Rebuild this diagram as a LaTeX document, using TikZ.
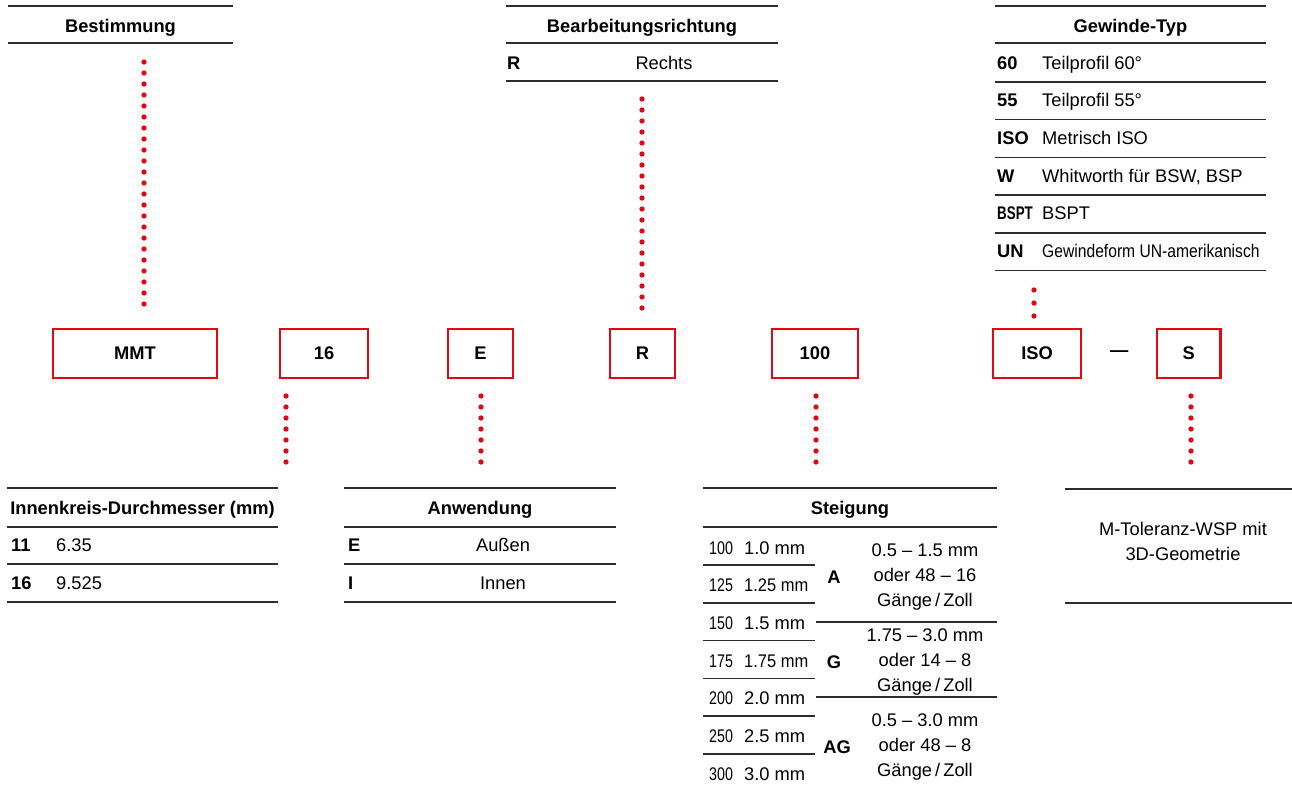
\documentclass[tikz,border=0pt]{standalone}
\usepackage{fontspec}
\setmainfont{Liberation Sans}
\usepackage{graphicx}
\usepackage{tikz}
\usetikzlibrary{positioning}
\definecolor{myred}{RGB}{227,6,19}
\definecolor{mydark}{RGB}{45,45,45}
\newcommand{\cond}[2]{\scalebox{#1}[1]{#2}}
\newcommand{\basefont}{\fontsize{18.3pt}{22pt}\selectfont}
\tikzset{
  codebox/.style={rectangle, draw=myred, fill=white, line width=2.4pt,
    inner sep=0pt, minimum height=48.6pt, font=\basefont\bfseries},
  hdr/.style={anchor=base, inner sep=0pt, font=\basefont\bfseries},
  key/.style={anchor=base west, inner sep=0pt, font=\basefont\bfseries},
  txt/.style={anchor=base west, inner sep=0pt},
  ctxt/.style={anchor=base, inner sep=0pt},
  grp/.style={align=center, inner sep=0pt,
    font=\fontsize{18.3pt}{25pt}\selectfont},
  rule/.style={draw=mydark, line width=1.5pt},
  dots/.style={draw=myred, line width=5.3pt, line cap=round,
    dash pattern=on 0pt off 11pt}
}

\begin{document}
\begin{tikzpicture}[x=1pt, y=-1pt, font=\basefont]
  \useasboundingbox (0,0) rectangle (1292,790);

  % Bestimmung
  \draw[rule] (8,6) -- (233,6);
  \node[hdr] (best-hdr) at (120.5,32) {Bestimmung};
  \draw[rule] (8,43) -- (233,43);
  \coordinate (best-foot) at (144,62);

  % Bearbeitungsrichtung
  \draw[rule] (506,6) -- (778,6);
  \node[hdr] (dir-hdr) at (642,32) {Bearbeitungsrichtung};
  \draw[rule] (506,43) -- (778,43);
  \node[key] (dir-k1) at (507,69) {R};
  \node[ctxt] (dir-v1) at (664,69) {Rechts};
  \draw[rule] (506,81) -- (778,81);
  \coordinate (dir-foot) at (642,99);

  % Gewinde-Typ
  \draw[rule] (995,6) -- (1266,6);
  \node[hdr] (gw-hdr) at (1130.5,32) {Gewinde-Typ};
  \draw[rule] (995,43) -- (1266,43);
  \foreach \code/\desc [count=\i] in {60/Teilprofil 60°, 55/Teilprofil 55°,
      ISO/Metrisch ISO, W/{Whitworth für BSW, BSP}, {\cond{0.73}{BSPT}}/BSPT,
      UN/{\cond{0.855}{Gewindeform UN-amerikanisch}}} {
    \node[key] (gw-k\i) at (997,31.3+37.7*\i) {\code};
    \node[txt] (gw-v\i) at (1042,31.3+37.7*\i) {\desc};
    \draw[rule] (995,44.3+37.7*\i) -- (1266,44.3+37.7*\i);
  }
  \coordinate (gw-foot) at (1034,290);

  % Schluessel
  \node[codebox, minimum width=163.6pt] (mmt) at (135,353.5) {MMT};
  \node[codebox, minimum width=87.6pt] (dia) at (324,353.5) {16};
  \node[codebox, minimum width=64.6pt] (app) at (480.5,353.5) {E};
  \node[codebox, minimum width=64.6pt] (dir) at (642.5,353.5) {R};
  \node[codebox, minimum width=85.6pt] (pitch) at (815,353.5) {100};
  \node[codebox, minimum width=87.6pt] (thread) at (1037,353.5) {ISO};
  \node[font=\basefont\bfseries, inner sep=0pt, right=28pt of thread] (dash) {\textemdash};
  \node[codebox, minimum width=63.6pt, right=27pt of dash] (shape) {S};

  % Punktlinien oben
  \draw[dots, shorten >=13pt] (best-foot) -- (best-foot |- mmt.north);
  \draw[dots, shorten >=13pt] (dir-foot) -- (dir-foot |- dir.north);
  \draw[dots, dash pattern=on 0pt off 13pt, shorten >=10pt] (gw-foot) -- (gw-foot |- thread.north);

  % Punktlinien unten
  \coordinate (dia-head) at (286,472);
  \coordinate (app-head) at (481,472);
  \coordinate (pitch-head) at (816,472);
  \coordinate (shape-head) at (1191,472);
  \draw[dots, shorten <=17pt] (dia.south -| dia-head) -- (dia-head);
  \draw[dots, shorten <=17pt] (app.south -| app-head) -- (app-head);
  \draw[dots, shorten <=17pt] (pitch.south -| pitch-head) -- (pitch-head);
  \draw[dots, shorten <=17pt] (shape.south -| shape-head) -- (shape-head);

  % Innenkreis-Durchmesser
  \draw[rule] (7,488) -- (278,488);
  \node[hdr] (dia-hdr) at (142.5,514) {Innenkreis-Durchmesser (mm)};
  \draw[rule] (7,527) -- (278,527);
  \node[key] (dia-k1) at (11,551) {11};
  \node[txt] (dia-v1) at (56,551) {6.35};
  \draw[rule] (7,564) -- (278,564);
  \node[key] (dia-k2) at (11,589) {16};
  \node[txt] (dia-v2) at (56,589) {9.525};
  \draw[rule] (7,602) -- (278,602);

  % Anwendung
  \draw[rule] (344,488) -- (616,488);
  \node[hdr] (app-hdr) at (480,514) {Anwendung};
  \draw[rule] (344,527) -- (616,527);
  \node[key] (app-k1) at (348,551) {E};
  \node[ctxt] (app-v1) at (503,551) {Außen};
  \draw[rule] (344,564) -- (616,564);
  \node[key] (app-k2) at (348,589) {I};
  \node[ctxt] (app-v2) at (503,589) {Innen};
  \draw[rule] (344,602) -- (616,602);

  % Steigung
  \draw[rule] (703,488) -- (997,488);
  \node[hdr] (pitch-hdr) at (850,514) {Steigung};
  \draw[rule] (703,527) -- (997,527);
  \foreach \code/\val [count=\i] in {100/1.0 mm, 125/{\cond{0.9}{1.25 mm}},
      150/1.5 mm, 175/{\cond{0.9}{1.75 mm}}, 200/2.0 mm, 250/2.5 mm, 300/3.0 mm} {
    \node[txt] (pitch-k\i) at (709,516.3+37.7*\i) {\cond{0.78}{\code}};
    \node[txt] (pitch-v\i) at (744,516.3+37.7*\i) {\val};
  }
  \foreach \i in {1,...,6}
    \draw[rule] (703,527.2+37.8*\i) -- (815,527.2+37.8*\i);
  \draw[rule] (816,622) -- (997,622);
  \draw[rule] (816,697) -- (997,697);
  \node[hdr] (grp-a) at (834,583) {A};
  \node[hdr] (grp-g) at (834,668) {G};
  \node[hdr] (grp-ag) at (837,753) {AG};
  \node[grp] (grp-a-txt) at (925,577) {0.5 – 1.5 mm\\oder 48 – 16\\Gänge\,/\,Zoll};
  \node[grp] (grp-g-txt) at (925,662) {1.75 – 3.0 mm\\oder 14 – 8\\Gänge\,/\,Zoll};
  \node[grp] (grp-ag-txt) at (925,747) {0.5 – 3.0 mm\\oder 48 – 8\\Gänge\,/\,Zoll};

  % Form
  \draw[rule] (1065,489) -- (1292,489);
  \node[grp] (shape-txt) at (1183,541.5) {M-Toleranz-WSP mit\\3D-Geometrie};
  \draw[rule] (1065,603) -- (1292,603);
\end{tikzpicture}
\end{document}
